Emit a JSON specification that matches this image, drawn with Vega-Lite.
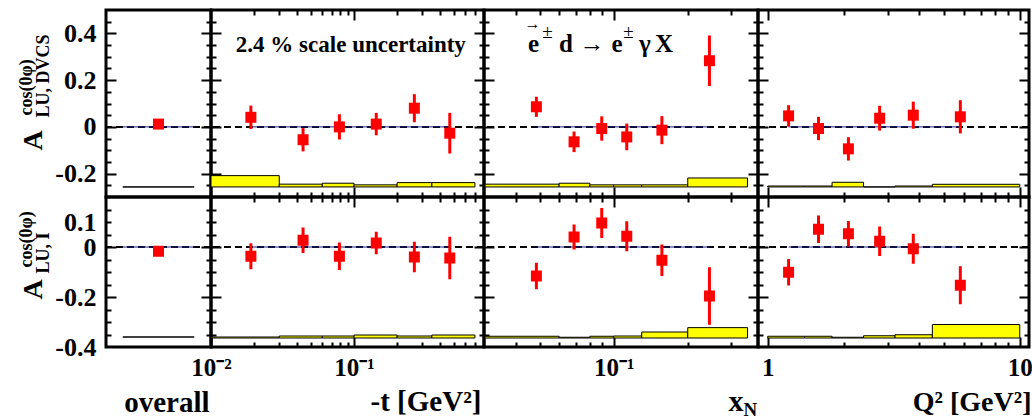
{
"$schema":"https://vega.github.io/schema/vega-lite/v6.json",
"background":"white",
"padding":{"left":15,"top":7,"right":0,"bottom":0},
"config":{
 "view":{"stroke":"black","strokeWidth":3},
 "axis":{"domain":false,"grid":false,"labels":false,"tickColor":"black","tickWidth":2,"labelFont":"Liberation Serif","labelFontWeight":"bold","labelFontSize":26,"labelColor":"black","titleFont":"Liberation Serif","titleFontWeight":"bold","titleColor":"black","labelFlush":false,"labelOverlap":false,"titlePadding":0}
},
"datasets":{
 "pts":[
  {"r":"D","v":"o","x":0.5,"y":0.012,"lo":0.004,"hi":0.02},
  {"r":"D","v":"t","x":0.019,"y":0.041,"lo":-0.009,"hi":0.091},
  {"r":"D","v":"t","x":0.044,"y":-0.055,"lo":-0.105,"hi":-0.005},
  {"r":"D","v":"t","x":0.079,"y":0.0,"lo":-0.054,"hi":0.054},
  {"r":"D","v":"t","x":0.143,"y":0.012,"lo":-0.036,"hi":0.06},
  {"r":"D","v":"t","x":0.264,"y":0.08,"lo":0.02,"hi":0.14},
  {"r":"D","v":"t","x":0.467,"y":-0.027,"lo":-0.114,"hi":0.06},
  {"r":"D","v":"x","x":0.0485,"y":0.086,"lo":0.043,"hi":0.129},
  {"r":"D","v":"x","x":0.069,"y":-0.064,"lo":-0.108,"hi":-0.02},
  {"r":"D","v":"x","x":0.0894,"y":-0.007,"lo":-0.059,"hi":0.045},
  {"r":"D","v":"x","x":0.113,"y":-0.043,"lo":-0.1,"hi":0.014},
  {"r":"D","v":"x","x":0.157,"y":-0.014,"lo":-0.074,"hi":0.046},
  {"r":"D","v":"x","x":0.245,"y":0.283,"lo":0.175,"hi":0.391},
  {"r":"D","v":"q","x":1.21,"y":0.047,"lo":0.001,"hi":0.093},
  {"r":"D","v":"q","x":1.59,"y":-0.007,"lo":-0.057,"hi":0.043},
  {"r":"D","v":"q","x":2.09,"y":-0.094,"lo":-0.144,"hi":-0.044},
  {"r":"D","v":"q","x":2.78,"y":0.037,"lo":-0.016,"hi":0.09},
  {"r":"D","v":"q","x":3.78,"y":0.05,"lo":-0.008,"hi":0.108},
  {"r":"D","v":"q","x":5.81,"y":0.043,"lo":-0.028,"hi":0.114},
  {"r":"I","v":"o","x":0.5,"y":-0.017,"lo":-0.025,"hi":-0.009},
  {"r":"I","v":"t","x":0.019,"y":-0.037,"lo":-0.089,"hi":0.015},
  {"r":"I","v":"t","x":0.044,"y":0.027,"lo":-0.024,"hi":0.078},
  {"r":"I","v":"t","x":0.079,"y":-0.037,"lo":-0.092,"hi":0.018},
  {"r":"I","v":"t","x":0.143,"y":0.016,"lo":-0.029,"hi":0.061},
  {"r":"I","v":"t","x":0.264,"y":-0.04,"lo":-0.101,"hi":0.021},
  {"r":"I","v":"t","x":0.467,"y":-0.044,"lo":-0.129,"hi":0.041},
  {"r":"I","v":"x","x":0.0485,"y":-0.116,"lo":-0.169,"hi":-0.063},
  {"r":"I","v":"x","x":0.069,"y":0.04,"lo":-0.01,"hi":0.09},
  {"r":"I","v":"x","x":0.0894,"y":0.096,"lo":0.036,"hi":0.156},
  {"r":"I","v":"x","x":0.113,"y":0.043,"lo":-0.017,"hi":0.103},
  {"r":"I","v":"x","x":0.157,"y":-0.053,"lo":-0.116,"hi":0.01},
  {"r":"I","v":"x","x":0.245,"y":-0.196,"lo":-0.311,"hi":-0.081},
  {"r":"I","v":"q","x":1.21,"y":-0.101,"lo":-0.154,"hi":-0.048},
  {"r":"I","v":"q","x":1.59,"y":0.071,"lo":0.016,"hi":0.126},
  {"r":"I","v":"q","x":2.09,"y":0.053,"lo":0.002,"hi":0.104},
  {"r":"I","v":"q","x":2.78,"y":0.023,"lo":-0.036,"hi":0.082},
  {"r":"I","v":"q","x":3.78,"y":-0.007,"lo":-0.067,"hi":0.053},
  {"r":"I","v":"q","x":5.81,"y":-0.153,"lo":-0.229,"hi":-0.077}
 ],
 "bands":[
  {"r":"D","v":"o","x1":0.16,"x2":0.84,"lo":-0.257,"hi":-0.257},
  {"r":"D","v":"t","x1":0.01,"x2":0.03,"lo":-0.257,"hi":-0.2086},
  {"r":"D","v":"t","x1":0.03,"x2":0.06,"lo":-0.257,"hi":-0.245},
  {"r":"D","v":"t","x1":0.06,"x2":0.1,"lo":-0.257,"hi":-0.241},
  {"r":"D","v":"t","x1":0.1,"x2":0.2,"lo":-0.257,"hi":-0.248},
  {"r":"D","v":"t","x1":0.2,"x2":0.35,"lo":-0.257,"hi":-0.2385},
  {"r":"D","v":"t","x1":0.35,"x2":0.7,"lo":-0.257,"hi":-0.2385},
  {"r":"D","v":"x","x1":0.03,"x2":0.06,"lo":-0.257,"hi":-0.245},
  {"r":"D","v":"x","x1":0.06,"x2":0.08,"lo":-0.257,"hi":-0.241},
  {"r":"D","v":"x","x1":0.08,"x2":0.1,"lo":-0.257,"hi":-0.248},
  {"r":"D","v":"x","x1":0.1,"x2":0.13,"lo":-0.257,"hi":-0.248},
  {"r":"D","v":"x","x1":0.13,"x2":0.2,"lo":-0.257,"hi":-0.248},
  {"r":"D","v":"x","x1":0.2,"x2":0.35,"lo":-0.257,"hi":-0.2186},
  {"r":"D","v":"q","x1":1.0,"x2":1.4,"lo":-0.257,"hi":-0.253},
  {"r":"D","v":"q","x1":1.4,"x2":1.8,"lo":-0.257,"hi":-0.253},
  {"r":"D","v":"q","x1":1.8,"x2":2.4,"lo":-0.257,"hi":-0.237},
  {"r":"D","v":"q","x1":2.4,"x2":3.2,"lo":-0.257,"hi":-0.257},
  {"r":"D","v":"q","x1":3.2,"x2":4.5,"lo":-0.257,"hi":-0.253},
  {"r":"D","v":"q","x1":4.5,"x2":10.0,"lo":-0.257,"hi":-0.2456},
  {"r":"I","v":"o","x1":0.16,"x2":0.84,"lo":-0.36,"hi":-0.36},
  {"r":"I","v":"t","x1":0.01,"x2":0.03,"lo":-0.364,"hi":-0.36},
  {"r":"I","v":"t","x1":0.03,"x2":0.06,"lo":-0.364,"hi":-0.356},
  {"r":"I","v":"t","x1":0.06,"x2":0.1,"lo":-0.364,"hi":-0.356},
  {"r":"I","v":"t","x1":0.1,"x2":0.2,"lo":-0.364,"hi":-0.352},
  {"r":"I","v":"t","x1":0.2,"x2":0.35,"lo":-0.364,"hi":-0.356},
  {"r":"I","v":"t","x1":0.35,"x2":0.7,"lo":-0.364,"hi":-0.352},
  {"r":"I","v":"x","x1":0.03,"x2":0.06,"lo":-0.364,"hi":-0.357},
  {"r":"I","v":"x","x1":0.06,"x2":0.08,"lo":-0.364,"hi":-0.361},
  {"r":"I","v":"x","x1":0.08,"x2":0.1,"lo":-0.364,"hi":-0.357},
  {"r":"I","v":"x","x1":0.1,"x2":0.13,"lo":-0.364,"hi":-0.356},
  {"r":"I","v":"x","x1":0.13,"x2":0.2,"lo":-0.364,"hi":-0.34},
  {"r":"I","v":"x","x1":0.2,"x2":0.35,"lo":-0.364,"hi":-0.3225},
  {"r":"I","v":"q","x1":1.0,"x2":1.4,"lo":-0.364,"hi":-0.357},
  {"r":"I","v":"q","x1":1.4,"x2":1.8,"lo":-0.364,"hi":-0.357},
  {"r":"I","v":"q","x1":1.8,"x2":2.4,"lo":-0.364,"hi":-0.361},
  {"r":"I","v":"q","x1":2.4,"x2":3.2,"lo":-0.364,"hi":-0.355},
  {"r":"I","v":"q","x1":3.2,"x2":4.5,"lo":-0.364,"hi":-0.351},
  {"r":"I","v":"q","x1":4.5,"x2":10.0,"lo":-0.364,"hi":-0.31}
 ],
 "lines":[
  {"r":"D","v":"o","x1":0.16,"x2":0.84,"y":0},
  {"r":"D","v":"t","x1":0.019,"x2":0.467,"y":0},
  {"r":"D","v":"x","x1":0.0485,"x2":0.245,"y":0},
  {"r":"D","v":"q","x1":1.21,"x2":5.81,"y":0},
  {"r":"I","v":"o","x1":0.16,"x2":0.84,"y":0},
  {"r":"I","v":"t","x1":0.019,"x2":0.467,"y":0},
  {"r":"I","v":"x","x1":0.0485,"x2":0.245,"y":0},
  {"r":"I","v":"q","x1":1.21,"x2":5.81,"y":0}
 ],
 "zero":[{"y":0}]
},
"columns":4,"spacing":0,"bounds":"flush",
"concat":[
{"width":105,"height":187,"layer":[
 {"data":{"name":"bands"},"transform":[{"filter":"datum.r=='D'&&datum.v=='o'"}],"mark":{"type":"rect","fill":"#ffff00","stroke":"black","strokeWidth":1},
  "encoding":{"x":{"field":"x1","type":"quantitative","scale":{"domain":[0,1],"nice":false,"zero":false},"axis":null},"x2":{"field":"x2"},
   "y":{"field":"lo","type":"quantitative","scale":{"domain":[-0.3,0.5],"nice":false,"zero":false},"axis":{"orient":"left","values":[-0.2,0,0.2,0.4],"tickSize":-10,"title":null}},"y2":{"field":"hi"}}},
 {"data":{"name":"zero"},"mark":{"type":"rule","color":"black","strokeWidth":2,"strokeDash":[7,4]},
  "encoding":{"y":{"field":"y","type":"quantitative","scale":{"domain":[-0.3,0.5],"nice":false,"zero":false},"axis":{"orient":"left","values":[0.4,0.2,0,-0.2],"ticks":false,"labels":true,"labelFont":"Liberation Serif","labelExpr":"''+datum.value","labelPadding":10,"title":"A","titleX":-65,"titleY":130,"titleAngle":270,"titleAlign":"center","titleBaseline":"alphabetic","titleFontSize":28}}}},
 {"data":{"name":"lines"},"transform":[{"filter":"datum.r=='D'&&datum.v=='o'"}],"mark":{"type":"rule","color":"#202080","strokeWidth":1},
  "encoding":{"x":{"field":"x1","type":"quantitative","scale":{"domain":[0,1],"nice":false,"zero":false},"axis":null},"x2":{"field":"x2"},
   "y":{"field":"y","type":"quantitative","scale":{"domain":[-0.3,0.5],"nice":false,"zero":false},"axis":{"orient":"right","values":[-0.25,-0.15,-0.1,-0.05,0.05,0.1,0.15,0.25,0.3,0.35,0.45],"tickSize":-5,"title":"LU, DVCS","titleX":-163,"titleY":107,"titleAngle":270,"titleAlign":"left","titleBaseline":"alphabetic","titleFontSize":18}}}},
 {"data":{"name":"pts"},"transform":[{"filter":"datum.r=='D'&&datum.v=='o'"}],"mark":{"type":"rule","color":"red","strokeWidth":3},
  "encoding":{"x":{"field":"x","type":"quantitative","scale":{"domain":[0,1],"nice":false,"zero":false},"axis":null},
   "y":{"field":"lo","type":"quantitative","scale":{"domain":[-0.3,0.5],"nice":false,"zero":false},"axis":{"orient":"left","values":[-0.25,-0.15,-0.1,-0.05,0.05,0.1,0.15,0.25,0.3,0.35,0.45],"tickSize":-5,"title":null}},"y2":{"field":"hi"}}},
 {"data":{"name":"pts"},"transform":[{"filter":"datum.r=='D'&&datum.v=='o'"}],"mark":{"type":"square","color":"red","opacity":1,"size":121},
  "encoding":{"x":{"field":"x","type":"quantitative","scale":{"domain":[0,1],"nice":false,"zero":false},"axis":null},
   "y":{"field":"y","type":"quantitative","scale":{"domain":[-0.3,0.5],"nice":false,"zero":false},"axis":{"orient":"right","values":[-0.2,0,0.2,0.4],"tickSize":-10,"title":"cos(0φ)","titleX":-180,"titleY":105,"titleAngle":270,"titleAlign":"left","titleBaseline":"alphabetic","titleFontSize":18}}}}
],"resolve":{"axis":{"x":"independent","y":"independent"}}},

{"width":273,"height":187,"layer":[
 {"data":{"name":"bands"},"transform":[{"filter":"datum.r=='D'&&datum.v=='t'"}],"mark":{"type":"rect","fill":"#ffff00","stroke":"black","strokeWidth":1},
  "encoding":{"x":{"field":"x1","type":"quantitative","scale":{"type":"log","domain":[0.01,0.81],"nice":false},"axis":{"orient":"bottom","values":[0.1],"tickSize":-10,"title":null}},"x2":{"field":"x2"},
   "y":{"field":"lo","type":"quantitative","scale":{"domain":[-0.3,0.5],"nice":false,"zero":false},"axis":{"orient":"left","values":[-0.2,0,0.2,0.4],"tickSize":-10,"title":null}},"y2":{"field":"hi"}}},
 {"data":{"name":"zero"},"mark":{"type":"rule","color":"black","strokeWidth":2,"strokeDash":[7,4]},
  "encoding":{"y":{"field":"y","type":"quantitative","scale":{"domain":[-0.3,0.5],"nice":false,"zero":false},"axis":null}}},
 {"data":{"name":"lines"},"transform":[{"filter":"datum.r=='D'&&datum.v=='t'"}],"mark":{"type":"rule","color":"#202080","strokeWidth":1},
  "encoding":{"x":{"field":"x1","type":"quantitative","scale":{"type":"log","domain":[0.01,0.81],"nice":false},"axis":{"orient":"top","values":[0.02,0.03,0.04,0.05,0.06,0.07,0.08,0.09,0.2,0.3,0.4,0.5,0.6,0.7],"tickSize":-5,"title":null}},"x2":{"field":"x2"},
   "y":{"field":"y","type":"quantitative","scale":{"domain":[-0.3,0.5],"nice":false,"zero":false},"axis":{"orient":"right","values":[-0.25,-0.15,-0.1,-0.05,0.05,0.1,0.15,0.25,0.3,0.35,0.45],"tickSize":-5,"title":null}}}},
 {"data":{"name":"pts"},"transform":[{"filter":"datum.r=='D'&&datum.v=='t'"}],"mark":{"type":"rule","color":"red","strokeWidth":3},
  "encoding":{"x":{"field":"x","type":"quantitative","scale":{"type":"log","domain":[0.01,0.81],"nice":false},"axis":{"orient":"bottom","values":[0.02,0.03,0.04,0.05,0.06,0.07,0.08,0.09,0.2,0.3,0.4,0.5,0.6,0.7],"tickSize":-5,"title":null}},
   "y":{"field":"lo","type":"quantitative","scale":{"domain":[-0.3,0.5],"nice":false,"zero":false},"axis":{"orient":"left","values":[-0.25,-0.15,-0.1,-0.05,0.05,0.1,0.15,0.25,0.3,0.35,0.45],"tickSize":-5,"title":null}},"y2":{"field":"hi"}}},
 {"data":{"name":"pts"},"transform":[{"filter":"datum.r=='D'&&datum.v=='t'"}],"mark":{"type":"square","color":"red","opacity":1,"size":121},
  "encoding":{"x":{"field":"x","type":"quantitative","scale":{"type":"log","domain":[0.01,0.81],"nice":false},"axis":{"orient":"top","values":[0.1],"tickSize":-10,"title":null}},
   "y":{"field":"y","type":"quantitative","scale":{"domain":[-0.3,0.5],"nice":false,"zero":false},"axis":{"orient":"right","values":[-0.2,0,0.2,0.4],"tickSize":-10,"title":null}}}},
 {"data":{"values":[{"t":"2.4 % scale uncertainty","x":0.095,"y":0.32}]},"mark":{"type":"text","font":"Liberation Serif","fontWeight":"bold","fontSize":23,"baseline":"alphabetic","align":"center","color":"black"},
  "encoding":{"x":{"field":"x","type":"quantitative","scale":{"type":"log","domain":[0.01,0.81],"nice":false},"axis":null},"y":{"field":"y","type":"quantitative","scale":{"domain":[-0.3,0.5],"nice":false,"zero":false},"axis":null},"text":{"field":"t"}}}
],"resolve":{"axis":{"x":"independent","y":"independent"}}},

{"width":274,"height":187,"layer":[
 {"data":{"name":"bands"},"transform":[{"filter":"datum.r=='D'&&datum.v=='x'"}],"mark":{"type":"rect","fill":"#ffff00","stroke":"black","strokeWidth":1},
  "encoding":{"x":{"field":"x1","type":"quantitative","scale":{"type":"log","domain":[0.0297,0.386],"nice":false},"axis":{"orient":"bottom","values":[0.1],"tickSize":-10,"title":null}},"x2":{"field":"x2"},
   "y":{"field":"lo","type":"quantitative","scale":{"domain":[-0.3,0.5],"nice":false,"zero":false},"axis":{"orient":"left","values":[-0.2,0,0.2,0.4],"tickSize":-10,"title":null}},"y2":{"field":"hi"}}},
 {"data":{"name":"zero"},"mark":{"type":"rule","color":"black","strokeWidth":2,"strokeDash":[7,4]},
  "encoding":{"y":{"field":"y","type":"quantitative","scale":{"domain":[-0.3,0.5],"nice":false,"zero":false},"axis":null}}},
 {"data":{"name":"lines"},"transform":[{"filter":"datum.r=='D'&&datum.v=='x'"}],"mark":{"type":"rule","color":"#202080","strokeWidth":1},
  "encoding":{"x":{"field":"x1","type":"quantitative","scale":{"type":"log","domain":[0.0297,0.386],"nice":false},"axis":{"orient":"top","values":[0.04,0.05,0.06,0.07,0.08,0.09,0.2,0.3],"tickSize":-5,"title":null}},"x2":{"field":"x2"},
   "y":{"field":"y","type":"quantitative","scale":{"domain":[-0.3,0.5],"nice":false,"zero":false},"axis":{"orient":"right","values":[-0.25,-0.15,-0.1,-0.05,0.05,0.1,0.15,0.25,0.3,0.35,0.45],"tickSize":-5,"title":null}}}},
 {"data":{"name":"pts"},"transform":[{"filter":"datum.r=='D'&&datum.v=='x'"}],"mark":{"type":"rule","color":"red","strokeWidth":3},
  "encoding":{"x":{"field":"x","type":"quantitative","scale":{"type":"log","domain":[0.0297,0.386],"nice":false},"axis":{"orient":"bottom","values":[0.04,0.05,0.06,0.07,0.08,0.09,0.2,0.3],"tickSize":-5,"title":null}},
   "y":{"field":"lo","type":"quantitative","scale":{"domain":[-0.3,0.5],"nice":false,"zero":false},"axis":{"orient":"left","values":[-0.25,-0.15,-0.1,-0.05,0.05,0.1,0.15,0.25,0.3,0.35,0.45],"tickSize":-5,"title":null}},"y2":{"field":"hi"}}},
 {"data":{"name":"pts"},"transform":[{"filter":"datum.r=='D'&&datum.v=='x'"}],"mark":{"type":"square","color":"red","opacity":1,"size":121},
  "encoding":{"x":{"field":"x","type":"quantitative","scale":{"type":"log","domain":[0.0297,0.386],"nice":false},"axis":{"orient":"top","values":[0.1],"tickSize":-10,"title":null}},
   "y":{"field":"y","type":"quantitative","scale":{"domain":[-0.3,0.5],"nice":false,"zero":false},"axis":{"orient":"right","values":[-0.2,0,0.2,0.4],"tickSize":-10,"title":null}}}},
 {"data":{"values":[{"t":"e","x":0.0472,"y":0.3215},{"t":"d","x":0.064,"y":0.3215},{"t":"→","x":0.0816,"y":0.3215},{"t":"e","x":0.1031,"y":0.3215},{"t":"γ","x":0.134,"y":0.3215},{"t":"X","x":0.1601,"y":0.3215}]},"mark":{"type":"text","font":"Liberation Serif","fontWeight":"bold","fontSize":25,"baseline":"alphabetic","align":"center","color":"black"},
  "encoding":{"x":{"field":"x","type":"quantitative","scale":{"type":"log","domain":[0.0297,0.386],"nice":false},"axis":null},"y":{"field":"y","type":"quantitative","scale":{"domain":[-0.3,0.5],"nice":false,"zero":false},"axis":null},"text":{"field":"t"}}},
 {"data":{"values":[{"t":"±","x":0.0538,"y":0.38},{"t":"±","x":0.1148,"y":0.38}]},"mark":{"type":"text","font":"Liberation Serif","fontWeight":"normal","fontSize":19,"baseline":"alphabetic","align":"center","color":"black"},
  "encoding":{"x":{"field":"x","type":"quantitative","scale":{"type":"log","domain":[0.0297,0.386],"nice":false},"axis":null},"y":{"field":"y","type":"quantitative","scale":{"domain":[-0.3,0.5],"nice":false,"zero":false},"axis":null},"text":{"field":"t"}}},
 {"data":{"values":[{"t":"→","x":0.0468,"y":0.418}]},"mark":{"type":"text","font":"Liberation Serif","fontWeight":"normal","fontSize":16,"baseline":"alphabetic","align":"center","color":"black"},
  "encoding":{"x":{"field":"x","type":"quantitative","scale":{"type":"log","domain":[0.0297,0.386],"nice":false},"axis":null},"y":{"field":"y","type":"quantitative","scale":{"domain":[-0.3,0.5],"nice":false,"zero":false},"axis":null},"text":{"field":"t"}}}
],"resolve":{"axis":{"x":"independent","y":"independent"}}},

{"width":271,"height":187,"layer":[
 {"data":{"name":"bands"},"transform":[{"filter":"datum.r=='D'&&datum.v=='q'"}],"mark":{"type":"rect","fill":"#ffff00","stroke":"black","strokeWidth":1},
  "encoding":{"x":{"field":"x1","type":"quantitative","scale":{"type":"log","domain":[0.915,10.88],"nice":false},"axis":{"orient":"bottom","values":[1,10],"tickSize":-10,"title":null}},"x2":{"field":"x2"},
   "y":{"field":"lo","type":"quantitative","scale":{"domain":[-0.3,0.5],"nice":false,"zero":false},"axis":{"orient":"left","values":[-0.2,0,0.2,0.4],"tickSize":-10,"title":null}},"y2":{"field":"hi"}}},
 {"data":{"name":"zero"},"mark":{"type":"rule","color":"black","strokeWidth":2,"strokeDash":[7,4]},
  "encoding":{"y":{"field":"y","type":"quantitative","scale":{"domain":[-0.3,0.5],"nice":false,"zero":false},"axis":null}}},
 {"data":{"name":"lines"},"transform":[{"filter":"datum.r=='D'&&datum.v=='q'"}],"mark":{"type":"rule","color":"#202080","strokeWidth":1},
  "encoding":{"x":{"field":"x1","type":"quantitative","scale":{"type":"log","domain":[0.915,10.88],"nice":false},"axis":{"orient":"top","values":[2,3,4,5,6,7,8,9],"tickSize":-5,"title":null}},"x2":{"field":"x2"},
   "y":{"field":"y","type":"quantitative","scale":{"domain":[-0.3,0.5],"nice":false,"zero":false},"axis":{"orient":"right","values":[-0.25,-0.15,-0.1,-0.05,0.05,0.1,0.15,0.25,0.3,0.35,0.45],"tickSize":-5,"title":null}}}},
 {"data":{"name":"pts"},"transform":[{"filter":"datum.r=='D'&&datum.v=='q'"}],"mark":{"type":"rule","color":"red","strokeWidth":3},
  "encoding":{"x":{"field":"x","type":"quantitative","scale":{"type":"log","domain":[0.915,10.88],"nice":false},"axis":{"orient":"bottom","values":[2,3,4,5,6,7,8,9],"tickSize":-5,"title":null}},
   "y":{"field":"lo","type":"quantitative","scale":{"domain":[-0.3,0.5],"nice":false,"zero":false},"axis":{"orient":"left","values":[-0.25,-0.15,-0.1,-0.05,0.05,0.1,0.15,0.25,0.3,0.35,0.45],"tickSize":-5,"title":null}},"y2":{"field":"hi"}}},
 {"data":{"name":"pts"},"transform":[{"filter":"datum.r=='D'&&datum.v=='q'"}],"mark":{"type":"square","color":"red","opacity":1,"size":121},
  "encoding":{"x":{"field":"x","type":"quantitative","scale":{"type":"log","domain":[0.915,10.88],"nice":false},"axis":{"orient":"top","values":[1,10],"tickSize":-10,"title":null}},
   "y":{"field":"y","type":"quantitative","scale":{"domain":[-0.3,0.5],"nice":false,"zero":false},"axis":{"orient":"right","values":[-0.2,0,0.2,0.4],"tickSize":-10,"title":null}}}}
],"resolve":{"axis":{"x":"independent","y":"independent"}}},

{"width":105,"height":150,"layer":[
 {"data":{"name":"bands"},"transform":[{"filter":"datum.r=='I'&&datum.v=='o'"}],"mark":{"type":"rect","fill":"#ffff00","stroke":"black","strokeWidth":1},
  "encoding":{"x":{"field":"x1","type":"quantitative","scale":{"domain":[0,1],"nice":false,"zero":false},"axis":{"orient":"bottom","ticks":false,"labels":false,"title":"overall","titleX":103,"titleY":64,"titleAlign":"right","titleBaseline":"alphabetic","titleFontSize":29}},"x2":{"field":"x2"},
   "y":{"field":"lo","type":"quantitative","scale":{"domain":[-0.4,0.2],"nice":false,"zero":false},"axis":{"orient":"left","values":[-0.2,0],"tickSize":-10,"title":null}},"y2":{"field":"hi"}}},
 {"data":{"name":"zero"},"mark":{"type":"rule","color":"black","strokeWidth":2,"strokeDash":[7,4]},
  "encoding":{"y":{"field":"y","type":"quantitative","scale":{"domain":[-0.4,0.2],"nice":false,"zero":false},"axis":{"orient":"left","values":[0.1,0,-0.2,-0.4],"ticks":false,"labels":true,"labelFont":"Liberation Serif","labelExpr":"''+datum.value","labelPadding":10,"title":"A","titleX":-65,"titleY":92,"titleAngle":270,"titleAlign":"center","titleBaseline":"alphabetic","titleFontSize":28}}}},
 {"data":{"name":"lines"},"transform":[{"filter":"datum.r=='I'&&datum.v=='o'"}],"mark":{"type":"rule","color":"#202080","strokeWidth":1},
  "encoding":{"x":{"field":"x1","type":"quantitative","scale":{"domain":[0,1],"nice":false,"zero":false},"axis":null},"x2":{"field":"x2"},
   "y":{"field":"y","type":"quantitative","scale":{"domain":[-0.4,0.2],"nice":false,"zero":false},"axis":{"orient":"right","values":[-0.35,-0.3,-0.25,-0.15,-0.1,-0.05,0.05,0.1,0.15],"tickSize":-5,"title":"LU, I","titleX":-163,"titleY":76,"titleAngle":270,"titleAlign":"left","titleBaseline":"alphabetic","titleFontSize":18}}}},
 {"data":{"name":"pts"},"transform":[{"filter":"datum.r=='I'&&datum.v=='o'"}],"mark":{"type":"rule","color":"red","strokeWidth":3},
  "encoding":{"x":{"field":"x","type":"quantitative","scale":{"domain":[0,1],"nice":false,"zero":false},"axis":null},
   "y":{"field":"lo","type":"quantitative","scale":{"domain":[-0.4,0.2],"nice":false,"zero":false},"axis":{"orient":"left","values":[-0.35,-0.3,-0.25,-0.15,-0.1,-0.05,0.05,0.1,0.15],"tickSize":-5,"title":null}},"y2":{"field":"hi"}}},
 {"data":{"name":"pts"},"transform":[{"filter":"datum.r=='I'&&datum.v=='o'"}],"mark":{"type":"square","color":"red","opacity":1,"size":121},
  "encoding":{"x":{"field":"x","type":"quantitative","scale":{"domain":[0,1],"nice":false,"zero":false},"axis":null},
   "y":{"field":"y","type":"quantitative","scale":{"domain":[-0.4,0.2],"nice":false,"zero":false},"axis":{"orient":"right","values":[-0.2,0],"tickSize":-10,"title":"cos(0φ)","titleX":-180,"titleY":70,"titleAngle":270,"titleAlign":"left","titleBaseline":"alphabetic","titleFontSize":18}}}}
],"resolve":{"axis":{"x":"independent","y":"independent"}}},

{"width":273,"height":150,"layer":[
 {"data":{"name":"bands"},"transform":[{"filter":"datum.r=='I'&&datum.v=='t'"}],"mark":{"type":"rect","fill":"#ffff00","stroke":"black","strokeWidth":1},
  "encoding":{"x":{"field":"x1","type":"quantitative","scale":{"type":"log","domain":[0.01,0.81],"nice":false},"axis":{"orient":"bottom","values":[0.01,0.1],"tickSize":-10,"labels":true,"labelFont":"Liberation Serif","labelFontSize":25,"labelExpr":"datum.value < 0.05 ? '10⁻²' : '10⁻¹'","labelPadding":18,"title":"-t [GeV²]","titleX":270,"titleY":63,"titleAlign":"right","titleBaseline":"alphabetic","titleFontSize":29}},"x2":{"field":"x2"},
   "y":{"field":"lo","type":"quantitative","scale":{"domain":[-0.4,0.2],"nice":false,"zero":false},"axis":{"orient":"left","values":[-0.2,0],"tickSize":-10,"title":null}},"y2":{"field":"hi"}}},
 {"data":{"name":"zero"},"mark":{"type":"rule","color":"black","strokeWidth":2,"strokeDash":[7,4]},
  "encoding":{"y":{"field":"y","type":"quantitative","scale":{"domain":[-0.4,0.2],"nice":false,"zero":false},"axis":null}}},
 {"data":{"name":"lines"},"transform":[{"filter":"datum.r=='I'&&datum.v=='t'"}],"mark":{"type":"rule","color":"#202080","strokeWidth":1},
  "encoding":{"x":{"field":"x1","type":"quantitative","scale":{"type":"log","domain":[0.01,0.81],"nice":false},"axis":{"orient":"top","values":[0.02,0.03,0.04,0.05,0.06,0.07,0.08,0.09,0.2,0.3,0.4,0.5,0.6,0.7],"tickSize":-5,"title":null}},"x2":{"field":"x2"},
   "y":{"field":"y","type":"quantitative","scale":{"domain":[-0.4,0.2],"nice":false,"zero":false},"axis":{"orient":"right","values":[-0.35,-0.3,-0.25,-0.15,-0.1,-0.05,0.05,0.1,0.15],"tickSize":-5,"title":null}}}},
 {"data":{"name":"pts"},"transform":[{"filter":"datum.r=='I'&&datum.v=='t'"}],"mark":{"type":"rule","color":"red","strokeWidth":3},
  "encoding":{"x":{"field":"x","type":"quantitative","scale":{"type":"log","domain":[0.01,0.81],"nice":false},"axis":{"orient":"bottom","values":[0.02,0.03,0.04,0.05,0.06,0.07,0.08,0.09,0.2,0.3,0.4,0.5,0.6,0.7],"tickSize":-5,"title":null}},
   "y":{"field":"lo","type":"quantitative","scale":{"domain":[-0.4,0.2],"nice":false,"zero":false},"axis":{"orient":"left","values":[-0.35,-0.3,-0.25,-0.15,-0.1,-0.05,0.05,0.1,0.15],"tickSize":-5,"title":null}},"y2":{"field":"hi"}}},
 {"data":{"name":"pts"},"transform":[{"filter":"datum.r=='I'&&datum.v=='t'"}],"mark":{"type":"square","color":"red","opacity":1,"size":121},
  "encoding":{"x":{"field":"x","type":"quantitative","scale":{"type":"log","domain":[0.01,0.81],"nice":false},"axis":{"orient":"top","values":[0.1],"tickSize":-10,"title":null}},
   "y":{"field":"y","type":"quantitative","scale":{"domain":[-0.4,0.2],"nice":false,"zero":false},"axis":{"orient":"right","values":[-0.2,0],"tickSize":-10,"title":null}}}}
],"resolve":{"axis":{"x":"independent","y":"independent"}}},

{"width":274,"height":150,"layer":[
 {"data":{"name":"bands"},"transform":[{"filter":"datum.r=='I'&&datum.v=='x'"}],"mark":{"type":"rect","fill":"#ffff00","stroke":"black","strokeWidth":1},
  "encoding":{"x":{"field":"x1","type":"quantitative","scale":{"type":"log","domain":[0.0297,0.386],"nice":false},"axis":{"orient":"bottom","values":[0.1],"tickSize":-10,"labels":true,"labelFont":"Liberation Serif","labelFontSize":25,"labelExpr":"'10⁻¹'","labelPadding":18,"title":"x","titleX":259,"titleY":63,"titleAlign":"right","titleBaseline":"alphabetic","titleFontSize":30}},"x2":{"field":"x2"},
   "y":{"field":"lo","type":"quantitative","scale":{"domain":[-0.4,0.2],"nice":false,"zero":false},"axis":{"orient":"left","values":[-0.2,0],"tickSize":-10,"title":null}},"y2":{"field":"hi"}}},
 {"data":{"name":"zero"},"mark":{"type":"rule","color":"black","strokeWidth":2,"strokeDash":[7,4]},
  "encoding":{"y":{"field":"y","type":"quantitative","scale":{"domain":[-0.4,0.2],"nice":false,"zero":false},"axis":null}}},
 {"data":{"name":"lines"},"transform":[{"filter":"datum.r=='I'&&datum.v=='x'"}],"mark":{"type":"rule","color":"#202080","strokeWidth":1},
  "encoding":{"x":{"field":"x1","type":"quantitative","scale":{"type":"log","domain":[0.0297,0.386],"nice":false},"axis":{"orient":"top","values":[0.04,0.05,0.06,0.07,0.08,0.09,0.2,0.3],"tickSize":-5,"title":null}},"x2":{"field":"x2"},
   "y":{"field":"y","type":"quantitative","scale":{"domain":[-0.4,0.2],"nice":false,"zero":false},"axis":{"orient":"right","values":[-0.35,-0.3,-0.25,-0.15,-0.1,-0.05,0.05,0.1,0.15],"tickSize":-5,"title":null}}}},
 {"data":{"name":"pts"},"transform":[{"filter":"datum.r=='I'&&datum.v=='x'"}],"mark":{"type":"rule","color":"red","strokeWidth":3},
  "encoding":{"x":{"field":"x","type":"quantitative","scale":{"type":"log","domain":[0.0297,0.386],"nice":false},"axis":{"orient":"bottom","values":[0.04,0.05,0.06,0.07,0.08,0.09,0.2,0.3],"tickSize":-5,"title":"N","titleX":259,"titleY":68,"titleAlign":"left","titleBaseline":"alphabetic","titleFontSize":19}},
   "y":{"field":"lo","type":"quantitative","scale":{"domain":[-0.4,0.2],"nice":false,"zero":false},"axis":{"orient":"left","values":[-0.35,-0.3,-0.25,-0.15,-0.1,-0.05,0.05,0.1,0.15],"tickSize":-5,"title":null}},"y2":{"field":"hi"}}},
 {"data":{"name":"pts"},"transform":[{"filter":"datum.r=='I'&&datum.v=='x'"}],"mark":{"type":"square","color":"red","opacity":1,"size":121},
  "encoding":{"x":{"field":"x","type":"quantitative","scale":{"type":"log","domain":[0.0297,0.386],"nice":false},"axis":{"orient":"top","values":[0.1],"tickSize":-10,"title":null}},
   "y":{"field":"y","type":"quantitative","scale":{"domain":[-0.4,0.2],"nice":false,"zero":false},"axis":{"orient":"right","values":[-0.2,0],"tickSize":-10,"title":null}}}}
],"resolve":{"axis":{"x":"independent","y":"independent"}}},

{"width":271,"height":150,"layer":[
 {"data":{"name":"bands"},"transform":[{"filter":"datum.r=='I'&&datum.v=='q'"}],"mark":{"type":"rect","fill":"#ffff00","stroke":"black","strokeWidth":1},
  "encoding":{"x":{"field":"x1","type":"quantitative","scale":{"type":"log","domain":[0.915,10.88],"nice":false},"axis":{"orient":"bottom","values":[1,10],"tickSize":-10,"labels":true,"labelFont":"Liberation Serif","labelFontSize":25,"labelExpr":"datum.value < 5 ? '1' : '10'","labelPadding":18,"title":"Q² [GeV²]","titleX":273,"titleY":63,"titleAlign":"right","titleBaseline":"alphabetic","titleFontSize":28}},"x2":{"field":"x2"},
   "y":{"field":"lo","type":"quantitative","scale":{"domain":[-0.4,0.2],"nice":false,"zero":false},"axis":{"orient":"left","values":[-0.2,0],"tickSize":-10,"title":null}},"y2":{"field":"hi"}}},
 {"data":{"name":"zero"},"mark":{"type":"rule","color":"black","strokeWidth":2,"strokeDash":[7,4]},
  "encoding":{"y":{"field":"y","type":"quantitative","scale":{"domain":[-0.4,0.2],"nice":false,"zero":false},"axis":null}}},
 {"data":{"name":"lines"},"transform":[{"filter":"datum.r=='I'&&datum.v=='q'"}],"mark":{"type":"rule","color":"#202080","strokeWidth":1},
  "encoding":{"x":{"field":"x1","type":"quantitative","scale":{"type":"log","domain":[0.915,10.88],"nice":false},"axis":{"orient":"top","values":[2,3,4,5,6,7,8,9],"tickSize":-5,"title":null}},"x2":{"field":"x2"},
   "y":{"field":"y","type":"quantitative","scale":{"domain":[-0.4,0.2],"nice":false,"zero":false},"axis":{"orient":"right","values":[-0.35,-0.3,-0.25,-0.15,-0.1,-0.05,0.05,0.1,0.15],"tickSize":-5,"title":null}}}},
 {"data":{"name":"pts"},"transform":[{"filter":"datum.r=='I'&&datum.v=='q'"}],"mark":{"type":"rule","color":"red","strokeWidth":3},
  "encoding":{"x":{"field":"x","type":"quantitative","scale":{"type":"log","domain":[0.915,10.88],"nice":false},"axis":{"orient":"bottom","values":[2,3,4,5,6,7,8,9],"tickSize":-5,"title":null}},
   "y":{"field":"lo","type":"quantitative","scale":{"domain":[-0.4,0.2],"nice":false,"zero":false},"axis":{"orient":"left","values":[-0.35,-0.3,-0.25,-0.15,-0.1,-0.05,0.05,0.1,0.15],"tickSize":-5,"title":null}},"y2":{"field":"hi"}}},
 {"data":{"name":"pts"},"transform":[{"filter":"datum.r=='I'&&datum.v=='q'"}],"mark":{"type":"square","color":"red","opacity":1,"size":121},
  "encoding":{"x":{"field":"x","type":"quantitative","scale":{"type":"log","domain":[0.915,10.88],"nice":false},"axis":{"orient":"top","values":[1,10],"tickSize":-10,"title":null}},
   "y":{"field":"y","type":"quantitative","scale":{"domain":[-0.4,0.2],"nice":false,"zero":false},"axis":{"orient":"right","values":[-0.2,0],"tickSize":-10,"title":null}}}}
],"resolve":{"axis":{"x":"independent","y":"independent"}}}
]
}
